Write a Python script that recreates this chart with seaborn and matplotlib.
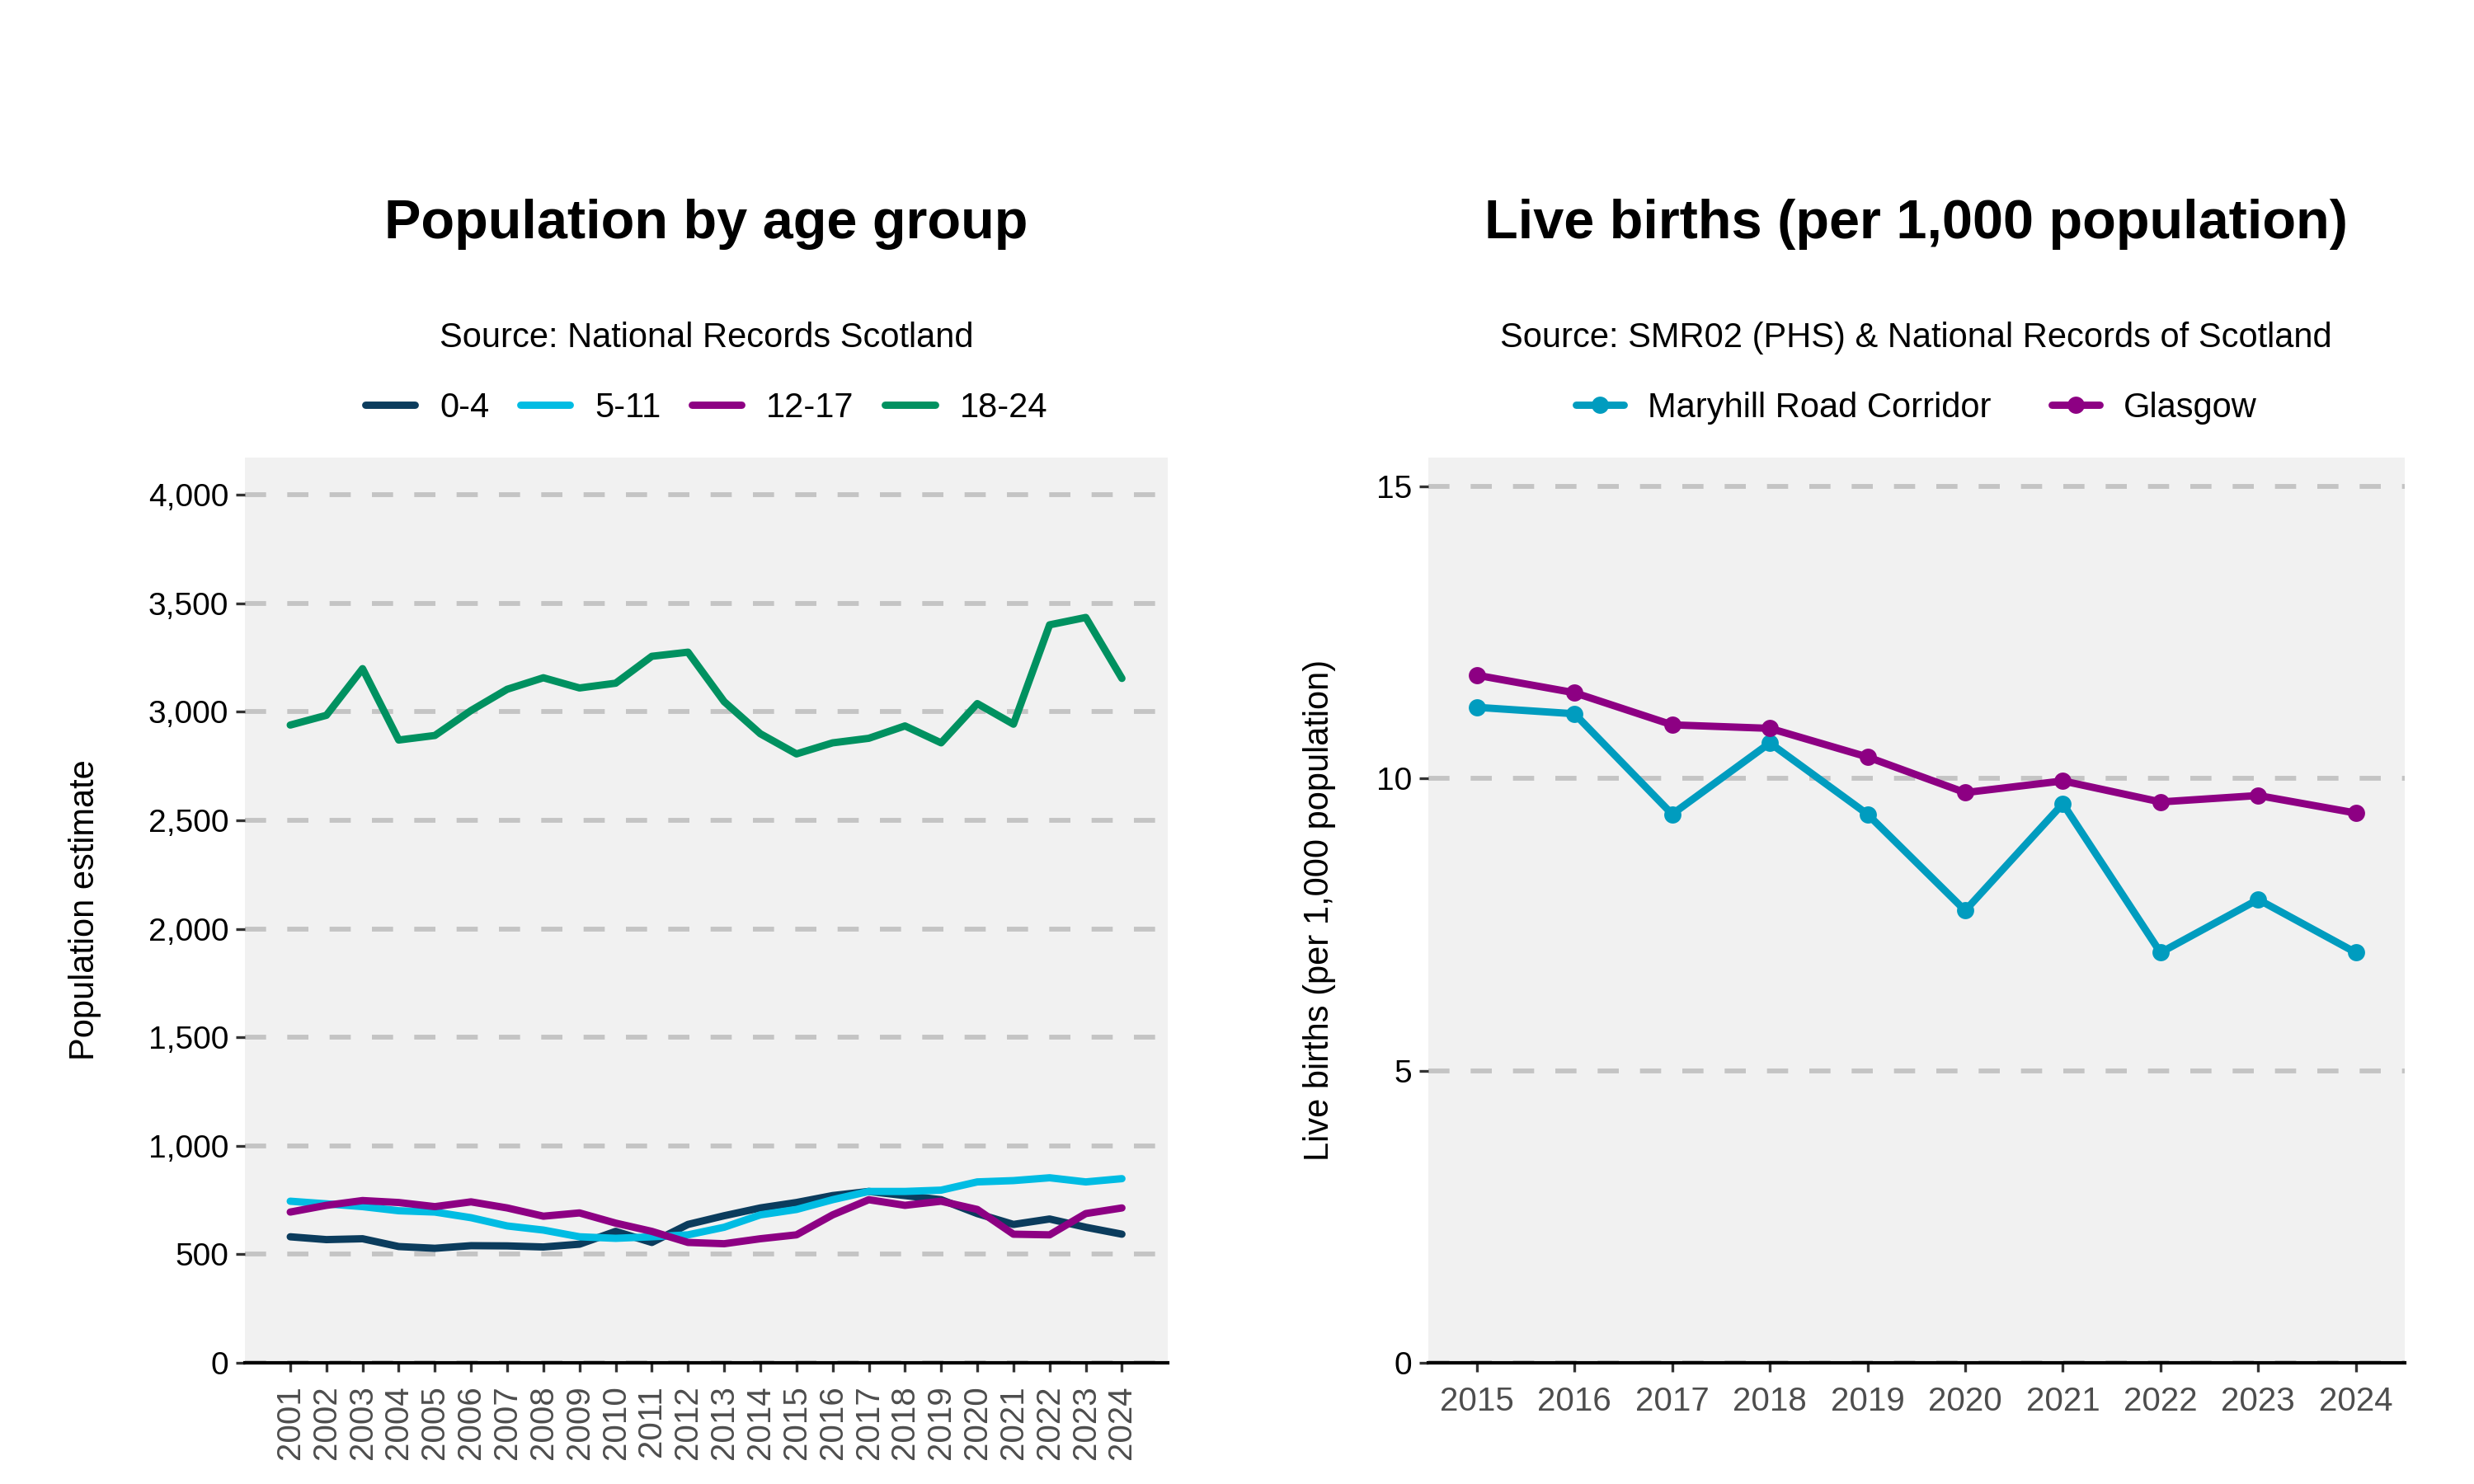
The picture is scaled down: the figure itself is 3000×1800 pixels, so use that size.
import matplotlib
matplotlib.use("Agg")
import matplotlib.pyplot as plt
import matplotlib.ticker as mticker
from matplotlib.lines import Line2D
import seaborn as sns
import pandas as pd

# ---------------- data ----------------
years_pop = list(range(2001, 2025))
age_groups = ["0-4", "5-11", "12-17", "18-24"]
pop_0_4 = [580, 567, 571, 535, 527, 539, 538, 533, 546, 605, 554, 637, 677, 713,
           738, 770, 789, 770, 751, 687, 637, 662, 624, 592]
pop_5_11 = [744, 732, 719, 700, 694, 668, 630, 611, 580, 573, 580, 589, 624, 681,
            706, 751, 789, 789, 795, 833, 839, 852, 833, 848]
pop_12_17 = [694, 725, 747, 738, 719, 741, 713, 675, 690, 643, 605, 554, 548, 571,
             589, 681, 751, 725, 744, 706, 592, 589, 687, 713]
pop_18_24 = [2939, 2984, 3199, 2870, 2891, 3006, 3104, 3157, 3110, 3132, 3256, 3275,
             3047, 2899, 2806, 2857, 2878, 2935, 2857, 3038, 2943, 3401, 3435, 3154]

years_births = list(range(2015, 2025))
areas = ["Maryhill Road Corridor", "Glasgow"]
births_maryhill = [11.22, 11.11, 9.39, 10.61, 9.39, 7.74, 9.57, 7.02, 7.93, 7.02]
births_glasgow = [11.77, 11.47, 10.92, 10.86, 10.37, 9.76, 9.96, 9.60, 9.71, 9.41]

pop_colors = ["#0b3c5d", "#00bce3", "#8d0083", "#009160"]
birth_colors = ["#009cbf", "#8d0083"]

# ---------------- frames ----------------
pop_df = pd.DataFrame({
    "Year": years_pop * 4,
    "Population": pop_0_4 + pop_5_11 + pop_12_17 + pop_18_24,
    "Age": sum([[g] * len(years_pop) for g in age_groups], []),
})
birth_df = pd.DataFrame({
    "Year": years_births * 2,
    "Rate": births_maryhill + births_glasgow,
    "Area": sum([[a] * len(years_births) for a in areas], []),
})

# ---------------- style ----------------
sns.set_theme(style="white")
plt.rcParams["font.family"] = ["Liberation Sans", "DejaVu Sans"]
plt.rcParams["text.color"] = "black"
plt.rcParams["axes.labelcolor"] = "black"

fig = plt.figure(figsize=(15, 9), dpi=200)
ax1 = fig.add_axes([0.0989, 0.0818, 0.373, 0.61])
ax2 = fig.add_axes([0.5772, 0.0818, 0.3948, 0.61])

panel_bg = "#f1f1f1"
grid_kw = dict(color="#c4c4c4", linewidth=2.1, linestyle=(0, (4.4, 4.4)), zorder=0)

sns.lineplot(data=pop_df, x="Year", y="Population", hue="Age",
             hue_order=age_groups, palette=pop_colors, linewidth=3.2,
             ax=ax1, legend=False, zorder=3)
sns.lineplot(data=birth_df, x="Year", y="Rate", hue="Area",
             hue_order=areas, palette=birth_colors, linewidth=3.2,
             marker="o", markersize=7.5, markeredgewidth=0,
             ax=ax2, legend=False, zorder=3)


def style_axes(ax, yticks, xticks, xlim, ylim, rot, ylabel, label_x):
    ax.set_facecolor(panel_bg)
    ax.set_xlim(*xlim)
    ax.set_ylim(*ylim)
    ax.set_yticks(yticks)
    ax.set_xticks(xticks)
    for y in yticks:
        ax.axhline(y, **grid_kw)
    for s in ["top", "right", "left"]:
        ax.spines[s].set_visible(False)
    ax.spines["bottom"].set_color("black")
    ax.spines["bottom"].set_linewidth(1.5)
    ax.spines["bottom"].set_zorder(4)
    ax.tick_params(axis="y", length=4, width=1.2, color="#333333",
                   labelsize=14, labelcolor="black", pad=3, left=True)
    ax.tick_params(axis="x", length=4, width=1.2, color="#333333",
                   labelsize=14.5, labelcolor="#4d4d4d", pad=6,
                   rotation=rot, bottom=True)
    ax.set_xlabel("")
    ax.set_ylabel(ylabel, fontsize=15, color="black")
    ax.yaxis.set_label_coords(label_x, 0.5)
    ax.grid(False)


style_axes(ax1, [0, 500, 1000, 1500, 2000, 2500, 3000, 3500, 4000], years_pop,
           (2001 - 1.26, 2024 + 1.26), (0, 4173), 90, "Population estimate", -0.155)
ax1.yaxis.set_major_formatter(mticker.FuncFormatter(lambda v, p: f"{int(v):,}"))

style_axes(ax2, [0, 5, 10, 15], years_births,
           (2015 - 0.5, 2024 + 0.5), (0, 15.5), 0,
           "Live births (per 1,000 population)", -0.094)

# titles & subtitles
fig.text(0.2855, 0.849, "Population by age group", ha="center", va="center",
         fontsize=24, fontweight="bold", color="black")
fig.text(0.2855, 0.772, "Source: National Records Scotland", ha="center",
         va="center", fontsize=15, color="black")
fig.text(0.7746, 0.849, "Live births (per 1,000 population)", ha="center",
         va="center", fontsize=24, fontweight="bold", color="black")
fig.text(0.7746, 0.772, "Source: SMR02 (PHS) & National Records of Scotland",
         ha="center", va="center", fontsize=15, color="black")

# legends
h1 = [Line2D([0], [0], color=c, linewidth=3.2) for c in pop_colors]
fig.legend(h1, age_groups, loc="center", bbox_to_anchor=(0.2855, 0.725),
           ncol=4, frameon=False, fontsize=15, handlelength=1.45,
           columnspacing=0.9, handletextpad=0.72, labelcolor="black")
h2 = [Line2D([0], [0], color=c, linewidth=3.2, marker="o", markersize=7.5,
             markeredgewidth=0) for c in birth_colors]
fig.legend(h2, areas, loc="center", bbox_to_anchor=(0.7746, 0.725),
           ncol=2, frameon=False, fontsize=15, handlelength=1.4,
           columnspacing=1.75, handletextpad=0.7, labelcolor="black")

fig.savefig("out.png", dpi=200, facecolor="white")
